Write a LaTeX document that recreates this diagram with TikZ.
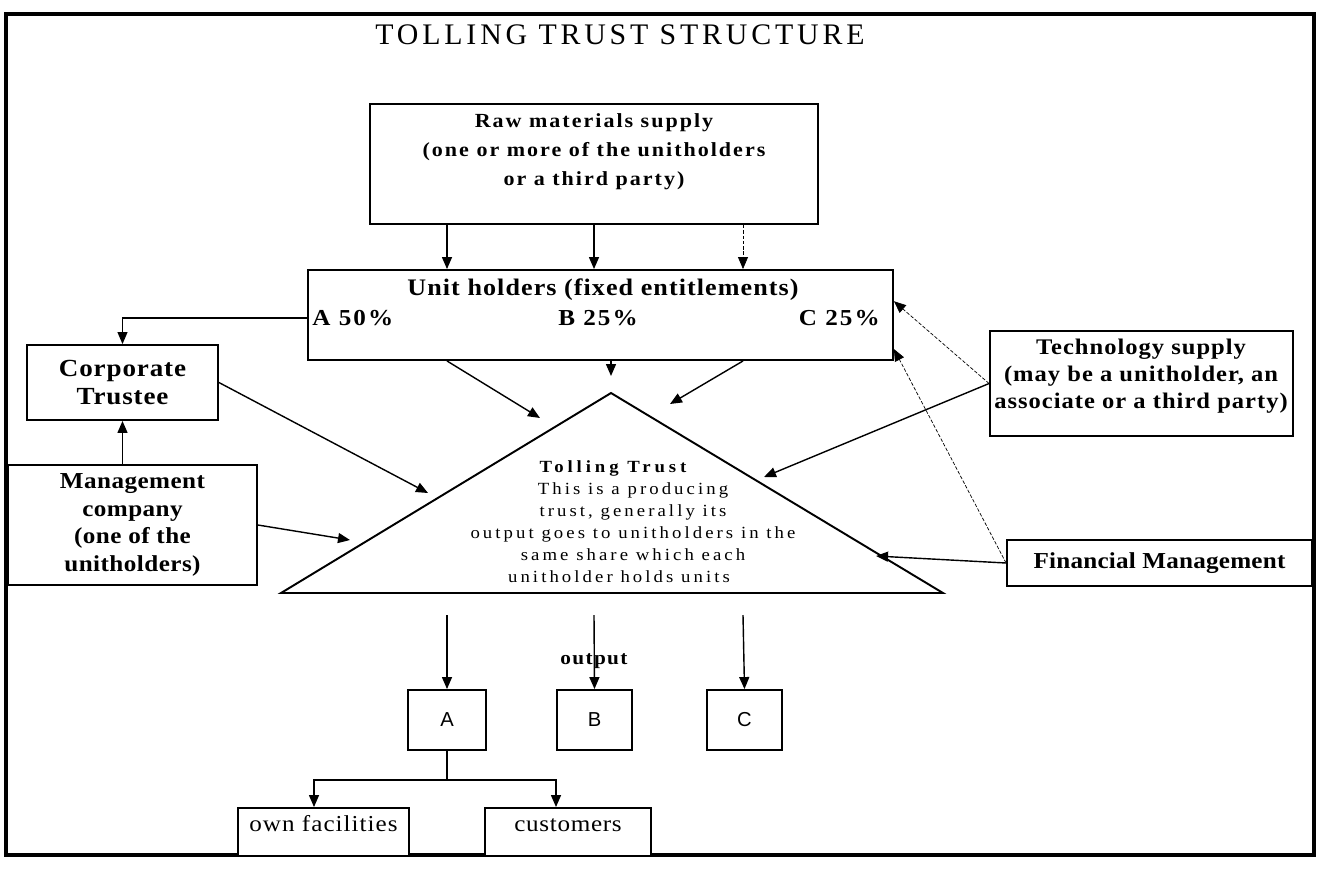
\documentclass[tikz,border=0pt]{standalone}
\usepackage{fontspec}
\setmainfont{Liberation Serif}
\setsansfont{Liberation Sans}
\newfontfamily\scanfont[FakeStretch=1.1,LetterSpace=4.5]{Liberation Serif}
\newfontfamily\headfont[LetterSpace=12.8]{Liberation Serif}
\usetikzlibrary{arrows.meta, positioning, calc}
\tikzset{
	boxnode/.style={
			rectangle,
			draw=black,
			line width=1.1pt,
			fill=white,
			inner sep=0pt,
			align=center
		},
	textnode/.style={
			inner sep=0pt,
			align=center
		},
	arrowline/.style={
			line width=0.8pt,
			-{Triangle[length=2.4mm,width=2mm]}
		},
	faintline/.style={
			arrowline,
			line width=0.4pt,
			dash pattern=on 2pt off 1pt
		},
	plainline/.style={
			line width=0.8pt
		}
}

\begin{document}
\begin{tikzpicture}[x=0.02cm, y=-0.02cm]
\useasboundingbox (0,0) rectangle (1322,870);
\draw[line width=2pt] (6,14) rectangle (1314,855);

\node[textnode, font=\headfont\fontsize{17}{20}\selectfont] (title) at (620,35) {TOLLING TRUST STRUCTURE};

% suppliers and unit holders
\node[boxnode, minimum width=8.96cm, minimum height=2.4cm] (raw) at (594,164) {};
\node[textnode, font=\scanfont\bfseries\addfontfeature{LetterSpace=10}\fontsize{11.4}{16.5}\selectfont] (rawtext) at (594,152)
  {Raw materials supply\\(one or more of the unitholders\\or a third party)};

\node[boxnode, minimum width=11.7cm, minimum height=1.8cm] (uh) at (600.5,315) {};
\node[textnode, font=\scanfont\bfseries\fontsize{13.5}{16}\selectfont] (uhtitle) at (603,290) {Unit holders (fixed entitlements)};
\node[textnode, anchor=west, font=\scanfont\bfseries\addfontfeature{LetterSpace=9}\fontsize{13}{15}\selectfont] (uhA) at (312,318) {A 50\%};
\node[textnode, font=\scanfont\bfseries\addfontfeature{LetterSpace=9}\fontsize{13}{15}\selectfont] (uhB) at (598,318) {B 25\%};
\node[textnode, anchor=east, font=\scanfont\bfseries\addfontfeature{LetterSpace=9}\fontsize{13}{15}\selectfont] (uhC) at (880,318) {C 25\%};

\node[boxnode, minimum width=3.82cm, minimum height=1.5cm, font=\scanfont\bfseries\addfontfeature{LetterSpace=3.5}\fontsize{14}{16}\selectfont] (corp) at (122.5,382.5) {Corporate\\Trustee};
\node[boxnode, minimum width=4.98cm, minimum height=2.4cm, font=\scanfont\bfseries\addfontfeature{LetterSpace=2}\fontsize{13}{15.8}\selectfont] (mgmt) at (132.5,525) {Management\\company\\(one of the\\unitholders)};

\node[boxnode, minimum width=6.06cm, minimum height=2.1cm] (tech) at (1141.5,383.5) {};
\node[textnode, font=\scanfont\bfseries\fontsize{12.7}{15.4}\selectfont] (techtext) at (1141,376)
  {Technology supply\\(may be a unitholder, an\\associate or a third party)};
\node[boxnode, minimum width=6.1cm, minimum height=0.92cm, font=\scanfont\bfseries\addfontfeature{LetterSpace=1}\fontsize{13}{15}\selectfont] (fin) at (1159.5,563) {Financial Management};

% the trust
\coordinate (apex) at (611,393);
\coordinate (tl) at (281,593);
\coordinate (tr) at (943,593);
\draw[line width=1.1pt] (tl) -- (apex) -- (tr) -- cycle;
\node[textnode, font=\scanfont\addfontfeature{LetterSpace=18}\fontsize{9.7}{12.5}\selectfont] (trusttext) at (633,522)
  {{\bfseries\addfontfeature{LetterSpace=23}Tolling Trust}\hspace*{0.8cm}\\This is a producing\\trust, generally its\\output goes to unitholders in the\\same share which each\\unitholder holds units\hspace*{0.56cm}};

% output
\node[boxnode, minimum width=1.56cm, minimum height=1.2cm, font=\sffamily\fontsize{11.5}{13}\selectfont] (outA) at (447,720) {A};
\node[boxnode, minimum width=1.5cm, minimum height=1.2cm, font=\sffamily\fontsize{11.5}{13}\selectfont] (outB) at (594.5,720) {B};
\node[boxnode, minimum width=1.5cm, minimum height=1.2cm, font=\sffamily\fontsize{11.5}{13}\selectfont] (outC) at (744.5,720) {C};
\node[textnode, font=\scanfont\bfseries\addfontfeature{LetterSpace=7}\fontsize{11}{13}\selectfont] (outlabel) at (594,661) {output};
\node[boxnode, minimum width=3.42cm, minimum height=0.96cm, text height=0.32cm, text depth=0.34cm, font=\scanfont\fontsize{13}{15}\selectfont] (own) at (323.5,832) {own facilities};
\node[boxnode, minimum width=3.32cm, minimum height=0.96cm, text height=0.32cm, text depth=0.34cm, font=\scanfont\addfontfeature{LetterSpace=3}\fontsize{13}{15}\selectfont] (cust) at (568,832) {customers};

\coordinate (colA) at (447,615);
\coordinate (colB) at (594,615);
\coordinate (colC) at (743,615);
\coordinate (split) at (447,780);
\coordinate (inA) at (540,418);
\coordinate (inB) at (611,376);
\coordinate (inC) at (670,404);
\coordinate (inCorp) at (428,493);
\coordinate (inMgmt) at (350,540);
\coordinate (inTech) at (764,477);
\coordinate (inFin) at (876,556);

\draw[arrowline] (raw.south -| colA) -- (uh.north -| colA);
\draw[arrowline] (raw.south -| colB) -- (uh.north -| colB);
\draw[faintline] (raw.south -| colC) -- (uh.north -| colC);

\draw[arrowline, line width=0.6pt] (uh.west |- uhA) -| (corp.north);
\draw[arrowline] (corp.south |- mgmt.north) -- (corp.south);

\draw[arrowline] (uh.south -| colA) -- (inA);
\draw[arrowline] (uh.south -| apex) -- (inB);
\draw[arrowline] (uh.south -| colC) -- (inC);
\draw[arrowline] (corp.east) -- (inCorp);
\draw[arrowline] (mgmt.east) -- (inMgmt);
\draw[arrowline] (tech.west) -- (inTech);
\draw[arrowline] (fin.west) -- (inFin);
\draw[faintline] (tech.west) -- ($(uh.north east)!0.35!(uh.south east)$);
\draw[faintline] (fin.west) -- ($(uh.north east)!0.87!(uh.south east)$);

\foreach \c/\b in {colA/outA, colB/outB, colC/outC}
  \draw[arrowline] (\c) -- (\b.north);
\draw[plainline] (outA.south) -- (split);
\draw[arrowline] (split) -| ([xshift=-0.19cm]own.north);
\draw[arrowline] (split) -| ([xshift=-0.24cm]cust.north);

\end{tikzpicture}
\end{document}
